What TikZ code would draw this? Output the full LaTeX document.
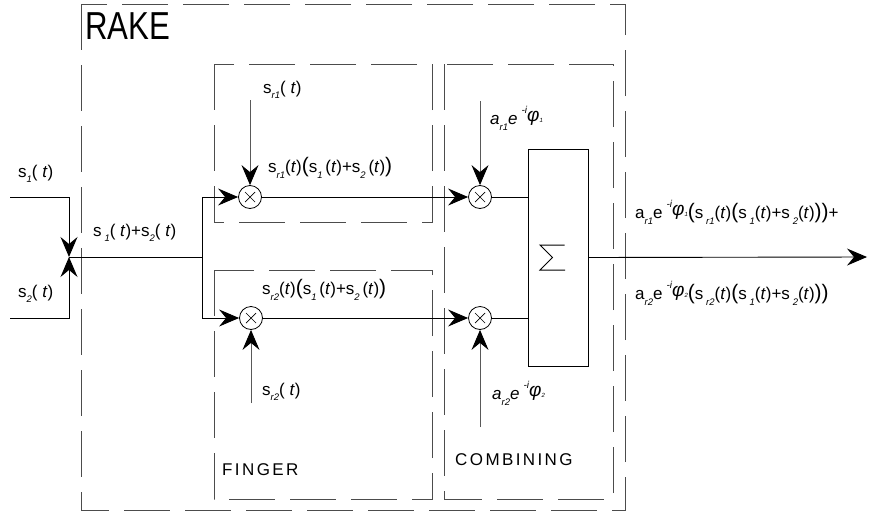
\documentclass[tikz,border=0pt]{standalone}
\usepackage{fontspec}
\usepackage{graphicx}
\setmainfont{Liberation Sans}
\usetikzlibrary{arrows.meta}
\newcommand\lo[1]{\raisebox{-0.6ex}{\fontsize{9.5}{10}\selectfont\itshape #1}}
\newcommand\tv{\textit{t}}
\newcommand\ex[1]{\hspace{4pt}\raisebox{1.3ex}{\fontsize{10}{10}\selectfont\itshape -i}\raisebox{0.4ex}{\fontsize{19}{19}\selectfont\itshape φ}\raisebox{0.3ex}{\fontsize{6}{6}\selectfont\itshape #1}}
\newcommand\bp[1]{{\fontsize{21}{21}\selectfont #1}}
\newcommand\spc{\hspace{2.4pt}}
\tikzset{
 conn/.style={line width=0.9pt, draw=black},
 feed/.style={line width=0.9pt, draw=black!65},
 arrowed/.style={-{Stealth[length=20pt, width=17pt, inset=7pt, color=black]}},
 frame/.style={draw=black!70, line width=0.9pt, dash pattern=on 46pt off 15pt},
 mult/.style={circle, draw, line width=0.8pt, minimum size=23pt, inner sep=0pt, fill=white,
   path picture={\draw[line width=0.7pt] ([shift={(-5pt,-5pt)}]path picture bounding box.center) -- ++(10pt,10pt)
     ([shift={(-5pt,5pt)}]path picture bounding box.center) -- ++(10pt,-10pt);}},
 lbl/.style={inner sep=0pt, anchor=west, font=\fontsize{17}{20}\selectfont},
}
\begin{document}
\begin{tikzpicture}[x=1pt,y=-1pt]
\useasboundingbox (0,0) rectangle (869,514);
% frames
\draw[frame] (81,4) rectangle (625,510);
\draw[frame] (214,64) rectangle (432,222);
\draw[frame] (214,270) rectangle (432,499);
\draw[frame] (444,64) rectangle (613,499);
% blocks
\node[mult] (m1) at (250,197) {};
\node[mult] (m2) at (251,318) {};
\node[mult] (n1) at (480,197) {};
\node[mult] (n2) at (480,318) {};
\node[draw, line width=0.9pt, minimum width=60pt, minimum height=217pt, inner sep=0pt] (sum) at (558,257.5) {};
\coordinate (sig) at (552,257);
\draw[line width=1pt, line join=miter] ([shift={(12.5,-12)}]sig) -- ([shift={(-12,-12)}]sig) -- ([shift={(0.5,0.5)}]sig) -- ([shift={(-12,13)}]sig) -- ([shift={(13,13)}]sig);
% coordinates
\coordinate (in1) at (10,197);
\coordinate (in2) at (10,318);
\coordinate (j) at (69,257);
\coordinate (br) at (202,257);
\coordinate (f1) at (250,100);
\coordinate (f2) at (251,403);
\coordinate (g1) at (480,101);
\coordinate (g2) at (480,427);
\coordinate (out) at (867,257);
% connectors
\draw[conn,arrowed] (in1) -| (j);
\draw[conn,arrowed] (in2) -| (j);
\draw[conn] (j) -- (br);
\draw[conn,arrowed] (br) |- (m1);
\draw[conn,arrowed] (br) |- (m2);
\draw[feed,arrowed] (f1) -- (m1);
\draw[feed,arrowed] (f2) -- (m2);
\draw[conn,arrowed] (m1) -- (n1);
\draw[conn,arrowed] (m2) -- (n2);
\draw[feed,arrowed] (g1) -- (n1);
\draw[feed,arrowed] (g2) -- (n2);
\draw[conn] (n1) -- (n1 -| sum.west);
\draw[conn] (n2) -- (n2 -| sum.west);
\draw[conn,arrowed] (sum.east) -- (out);
% labels
\node[lbl] (L1) at (18,174) {s\lo{1}( \tv)};
\node[lbl] (L2) at (18,294) {s\lo{2}( \tv)};
\node[lbl] (Lin) at (93,233) {s\,\lo{1}( \tv)+s\lo{2}( \tv)};
\node[lbl] (Lr1) at (263,90) {s\lo{r1}( \tv)};
\node[lbl] (Lp1) at (268,168) {s\lo{r1}(\tv)\bp{(}s\lo{1}\,(\tv)+s\lo{2}\,(\tv)\bp{)}};
\node[lbl] (Lp2) at (262,290) {s\lo{r2}(\tv)\bp{(}s\lo{1}\,(\tv)+s\lo{2}\,(\tv)\bp{)}};
\node[lbl] (Lr2) at (262,392) {s\lo{r2}( \tv)};
\node[lbl] (La1) at (490,118) {\textit{a}\lo{r1}\textit{e}\ex{1}};
\node[lbl] (La2) at (492,393) {\textit{a}\lo{r2}\textit{e}\ex{2}};
\node[lbl] (Lo1) at (635,212) {a\lo{r1}e\ex{1}\bp{(}s\,\lo{r1}(\tv)\bp{(}s\,\lo{1}(\tv)+s\,\lo{2}(\tv)\bp{))}+};
\node[lbl] (Lo2) at (635,293) {a\lo{r2}e\ex{2}\bp{(}s\,\lo{r2}(\tv)\bp{(}s\,\lo{1}(\tv)+s\,\lo{2}(\tv)\bp{))}};
\node[lbl, font=\fontsize{39}{39}\selectfont] (rake) at (85,26) {\scalebox{0.8}[1]{RAKE}};
\node[lbl] (fin) at (222,470) {F\spc I\spc N\spc G\spc E\spc R};
\node[lbl] (comb) at (455,460) {C\spc O\spc M\spc B\spc I\spc N\spc I\spc N\spc G};
\end{tikzpicture}
\end{document}
